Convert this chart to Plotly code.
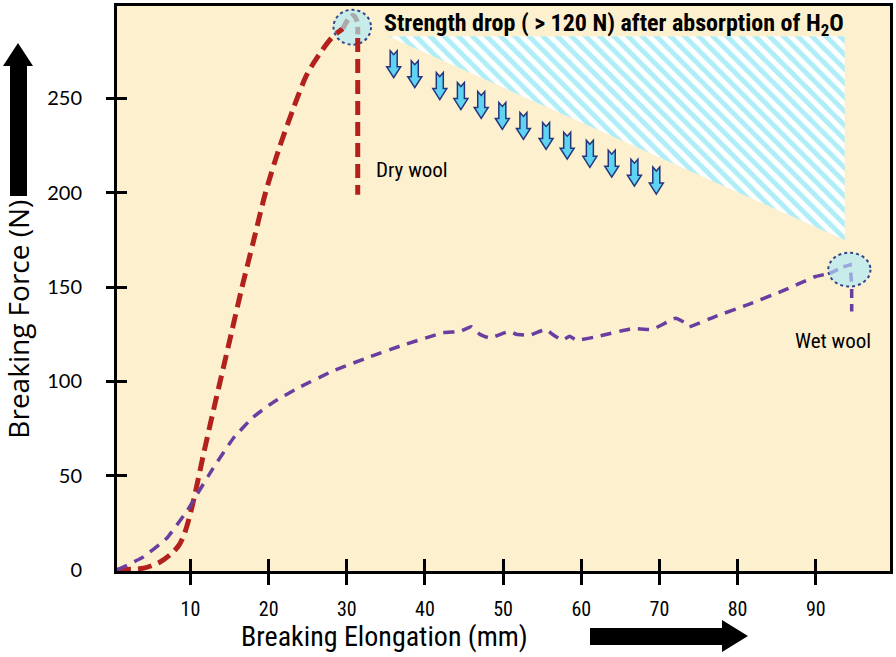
import plotly.graph_objects as go

# ---------------- data ----------------
dry_x = [0.6, 2, 4, 6, 7.5, 8.5, 9.2, 9.8, 10.4, 11.7, 12.9, 13.8, 15.2, 16.6, 18.1, 19.6,
         21.3, 23.1, 24.9, 26.8, 28.2, 29.5]
dry_y = [0, 0.3, 1, 4, 8.5, 13, 19, 27, 37, 62, 84, 100, 125, 150, 175, 200,
         223, 244, 262.7, 275.3, 282.7, 287]
dry_peak_x = [29.5, 30.2, 30.8, 31.3, 31.4]
dry_peak_y = [287, 292, 294, 291, 284]
dry_drop_x = [31.4, 31.4]
dry_drop_y = [282, 199]

wet_x = [0.6, 4, 7, 9.6, 10.6, 12.9, 15.5, 18, 20.6, 24, 28.2, 32.6, 36.8, 42.3, 44.5, 45.9,
         47, 48.3, 50.8, 51.7, 53.4, 55.5, 56.3, 57.6, 58.5, 59.4, 62.3, 66.5, 69.1, 72.1,
         73.4, 73.8, 77.2, 81.4, 85.6, 90, 91.8]
wet_y = [0, 7, 17, 31.6, 38.5, 54, 70, 81, 89, 97, 105.5, 112.5, 118.7, 125.8, 126.5, 129,
         125, 123, 126.6, 125, 124.5, 127.6, 125, 121.8, 124, 121.8, 124, 128, 127.6, 133.5,
         130.8, 129, 134.5, 140.8, 147.7, 155.6, 157.3]
wet_peak_x = [91.8, 93.4, 94.4, 94.6]
wet_peak_y = [157.3, 160.5, 161.8, 151]
wet_drop_x = [94.6, 94.6]
wet_drop_y = [149, 137]

# highlight ellipses [x0, x1, y0, y1]
dry_highlight = [28.3, 33.1, 278.5, 297]
wet_highlight = [91.6, 97.0, 150.3, 168.2]

# hatched "strength drop" triangle
drop_x = [35.3, 93.7, 93.7, 35.3]
drop_y = [283, 283, 175, 283]

# small down arrows (top anchor of each arrow)
arrow_x = [36.0, 38.7, 41.9, 44.6, 47.2, 49.9, 52.6, 55.5, 58.2, 61.1, 63.9, 66.8, 69.6]
arrow_y = [275.3, 270.0, 263.7, 258.4, 253.7, 247.9, 242.6, 237.3, 232.1, 227.8, 222.6, 217.8, 213.6]

x_ticks = [10, 20, 30, 40, 50, 60, 70, 80, 90]
y_ticks = [0, 50, 100, 150, 200, 250]
y_marks = [50, 100, 150, 200, 250]

X_RANGE = [0.6, 99.5]
Y_RANGE = [-0.5, 299]

RED = "#b3211c"
PURPLE = "#6a3ea1"
CREAM = "#fcf0cf"
NARROW = "Liberation Sans Narrow, Roboto Condensed, Arial Narrow, sans-serif"
SANS = "Lato, Open Sans, sans-serif"

fig = go.Figure()

# hatched triangle
fig.add_trace(go.Scatter(
    x=drop_x, y=drop_y, mode="lines", fill="toself", line=dict(width=0),
    fillcolor="rgba(0,0,0,0)",
    fillpattern=dict(shape="\\", fgcolor="#62ddf0", bgcolor="white", size=10, solidity=0.5),
    hoverinfo="skip"))

# dry wool
fig.add_trace(go.Scatter(x=dry_x, y=dry_y, mode="lines",
                         line=dict(color=RED, width=5, dash="14px,7px", shape="spline", smoothing=0.8)))
fig.add_trace(go.Scatter(x=dry_peak_x, y=dry_peak_y, mode="lines",
                         line=dict(color="#aaaaaa", width=5, dash="10px,5px", shape="spline")))
fig.add_trace(go.Scatter(x=dry_drop_x, y=dry_drop_y, mode="lines",
                         line=dict(color=RED, width=5, dash="14px,7px")))

# wet wool
fig.add_trace(go.Scatter(x=wet_x, y=wet_y, mode="lines",
                         line=dict(color=PURPLE, width=3.5, dash="11px,8px", shape="spline", smoothing=0.3)))
fig.add_trace(go.Scatter(x=wet_peak_x, y=wet_peak_y, mode="lines",
                         line=dict(color="#9aa6dc", width=3.5, dash="9px,6px")))
fig.add_trace(go.Scatter(x=wet_drop_x, y=wet_drop_y, mode="lines",
                         line=dict(color=PURPLE, width=3.5, dash="9px,6px")))

# helper traces for overlay tick axes
fig.add_trace(go.Scatter(x=[None], y=[None], xaxis="x2", yaxis="y2", showlegend=False))
fig.add_trace(go.Scatter(x=[None], y=[None], xaxis="x2", yaxis="y3", showlegend=False))

shapes = []
for h in (dry_highlight, wet_highlight):
    shapes.append(dict(type="circle", xref="x", yref="y", x0=h[0], x1=h[1], y0=h[2], y1=h[3],
                       fillcolor="#c8ecea", line=dict(color="#33468a", width=2, dash="dot"),
                       layer="below"))

arrow_path = "M-3.5,0 L0,-4 L3.5,0 L3.5,-16 L7,-16 L0,-27 L-7,-16 L-3.5,-16 Z"
for ax_, ay_ in zip(arrow_x, arrow_y):
    shapes.append(dict(type="path", xref="x", yref="y", xsizemode="pixel", ysizemode="pixel",
                       xanchor=ax_, yanchor=ay_, path=arrow_path,
                       fillcolor="#5fd4f2", line=dict(color="#24367e", width=1.5), layer="above"))

# big black direction arrows
shapes.append(dict(type="path", xref="paper", yref="paper", xsizemode="pixel", ysizemode="pixel",
                   xanchor=0, yanchor=1,
                   path="M-99,-37 L-84,-60 L-90,-60 L-90,-190 L-107,-190 L-107,-60 L-114,-60 Z",
                   fillcolor="black", line=dict(width=0)))
shapes.append(dict(type="path", xref="paper", yref="paper", xsizemode="pixel", ysizemode="pixel",
                   xanchor=0, yanchor=0,
                   path="M473,-57 L605,-57 L605,-49 L631,-65 L605,-81 L605,-74 L473,-74 Z",
                   fillcolor="black", line=dict(width=0)))

annotations = [
    dict(text="<b>Strength drop ( > 120 N) after absorption of H<sub>2</sub>O</b>",
         xref="paper", yref="paper", x=0.6426, y=0.968, xanchor="center", yanchor="middle",
         showarrow=False, font=dict(family=NARROW, size=24, color="black")),
    dict(text="Dry wool", xref="x", yref="y", x=38.4, y=212, xanchor="center", yanchor="middle",
         showarrow=False, font=dict(family=NARROW, size=21, color="black")),
    dict(text="Wet wool", xref="x", yref="y", x=92.2, y=121.3, xanchor="center", yanchor="middle",
         showarrow=False, font=dict(family=NARROW, size=21, color="black")),
    dict(text="Breaking Force (N)", xref="paper", yref="paper", x=-0.128, y=0.445,
         xanchor="center", yanchor="middle",
         textangle=-90, showarrow=False, font=dict(family="Open Sans, Lato, sans-serif", size=28, color="black")),
    dict(text="Breaking Elongation (mm)", xref="paper", yref="paper", x=0.346, y=-0.116,
         xanchor="center", yanchor="middle",
         showarrow=False, font=dict(family=NARROW, size=28, color="black")),
]

fig.update_layout(
    width=896, height=657,
    margin=dict(l=117, r=4, t=3, b=86),
    paper_bgcolor="white", plot_bgcolor=CREAM,
    showlegend=False,
    shapes=shapes, annotations=annotations,
    xaxis=dict(range=X_RANGE, tickvals=x_ticks, ticks="outside", ticklen=11, tickwidth=3,
               tickcolor="black", showgrid=False, zeroline=False, showline=True, mirror=True,
               linecolor="black", linewidth=3, tickfont=dict(family=NARROW, size=20, color="black"),
               ticklabelstandoff=7),
    yaxis=dict(range=Y_RANGE, tickvals=y_ticks, ticks="", showgrid=False, zeroline=False,
               showline=True, mirror=True, linecolor="black", linewidth=3,
               tickfont=dict(family=SANS, size=20, color="black"), ticklabelstandoff=28),
    xaxis2=dict(range=X_RANGE, overlaying="x", tickvals=x_ticks, ticks="inside", ticklen=12,
                tickwidth=3, tickcolor="black", showticklabels=False, showgrid=False,
                zeroline=False, showline=False),
    yaxis2=dict(range=Y_RANGE, overlaying="y", tickvals=y_marks, ticks="outside", ticklen=10,
                tickwidth=3, tickcolor="black", showticklabels=False, showgrid=False,
                zeroline=False, showline=False),
    yaxis3=dict(range=Y_RANGE, overlaying="y", tickvals=y_marks, ticks="inside", ticklen=10,
                tickwidth=3, tickcolor="black", showticklabels=False, showgrid=False,
                zeroline=False, showline=False),
)

fig.write_html("out.html", config={"displayModeBar": False},
               post_script="document.body.style.margin='0px';")
